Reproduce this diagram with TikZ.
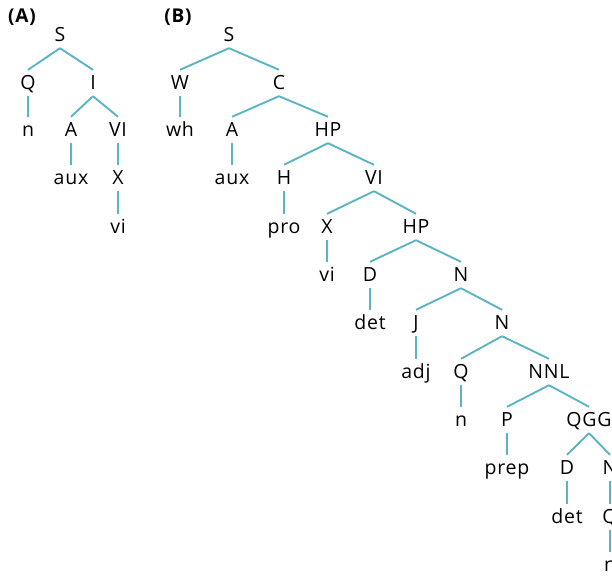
\documentclass[tikz,border=0pt]{standalone}
\usepackage{fontspec}
\setmainfont{Open Sans}[LetterSpace=4]
\begin{document}
\begin{tikzpicture}[x=1pt,y=-1pt,
  tn/.style={inner sep=0pt, text height=13pt, text depth=0pt, minimum height=26pt, font=\fontsize{19.5}{22}\selectfont},
  lab/.style={inner sep=0pt, font=\fontsize{19}{22}\selectfont\bfseries},
  edge/.style={draw=teal0, line width=1.9pt}]
\definecolor{teal0}{HTML}{5AB4C3}
\useasboundingbox (0,0) rectangle (612,575);
\clip (0,0) rectangle (612,575);
\node[lab] (labA) at (22,17) {(A)};
\node[lab] (labB) at (178,17) {(B)};
% Tree A
\node[tn] (SA) at (60,35) {S};
\node[tn] (QA) at (28,83) {Q};
\node[tn] (IA) at (93,83) {I};
\node[tn] (nA) at (28,130) {n};
\node[tn] (AA) at (71,130) {A};
\node[tn] (VIA) at (118,130) {VI};
\node[tn] (auxA) at (71,178) {aux};
\node[tn] (XA) at (118,178) {X};
\node[tn] (viA) at (118,227) {vi};
\foreach \a/\b in {SA/QA,SA/IA,QA/nA,IA/AA,IA/VIA,AA/auxA,VIA/XA,XA/viA}
  \draw[edge] (\a.south) -- (\b.north);
% Tree B
\node[tn] (SB) at (229,35) {S};
\node[tn] (WB) at (180,83) {W};
\node[tn] (CB) at (279,83) {C};
\node[tn] (whB) at (180,130) {wh};
\node[tn] (AB) at (232,130) {A};
\node[tn] (HPB) at (328,130) {HP};
\node[tn] (auxB) at (232,178) {aux};
\node[tn] (HB) at (284,178) {H};
\node[tn] (VIB) at (374,178) {VI};
\node[tn] (proB) at (284,227) {pro};
\node[tn] (XB) at (327,227) {X};
\node[tn] (HPC) at (416,227) {HP};
\node[tn] (viB) at (327,275) {vi};
\node[tn] (DB) at (370,275) {D};
\node[tn] (NB) at (461,275) {N};
\node[tn] (detB) at (370,323) {det};
\node[tn] (JB) at (416,323) {J};
\node[tn] (NC) at (502,323) {N};
\node[tn] (adjB) at (416,372) {adj};
\node[tn] (QB) at (461,372) {Q};
\node[tn] (NNL) at (549,372) {NNL};
\node[tn] (nB) at (461,420) {n};
\node[tn] (PB) at (507,420) {P};
\node[tn] (QGG) at (589,420) {QGG};
\node[tn] (prepB) at (507,468) {prep};
\node[tn] (DC) at (567,468) {D};
\node[tn] (ND) at (610,468) {N};
\node[tn] (detC) at (567,517) {det};
\node[tn] (QC) at (610,517) {Q};
\node[tn] (nC) at (610,565) {n};
\foreach \a/\b in {SB/WB,SB/CB,WB/whB,CB/AB,CB/HPB,AB/auxB,HPB/HB,HPB/VIB,HB/proB,VIB/XB,VIB/HPC,XB/viB,HPC/DB,HPC/NB,DB/detB,NB/JB,NB/NC,JB/adjB,NC/QB,NC/NNL,QB/nB,NNL/PB,NNL/QGG,PB/prepB,QGG/DC,QGG/ND,DC/detC,ND/QC,QC/nC}
  \draw[edge] (\a.south) -- (\b.north);
\end{tikzpicture}
\end{document}
